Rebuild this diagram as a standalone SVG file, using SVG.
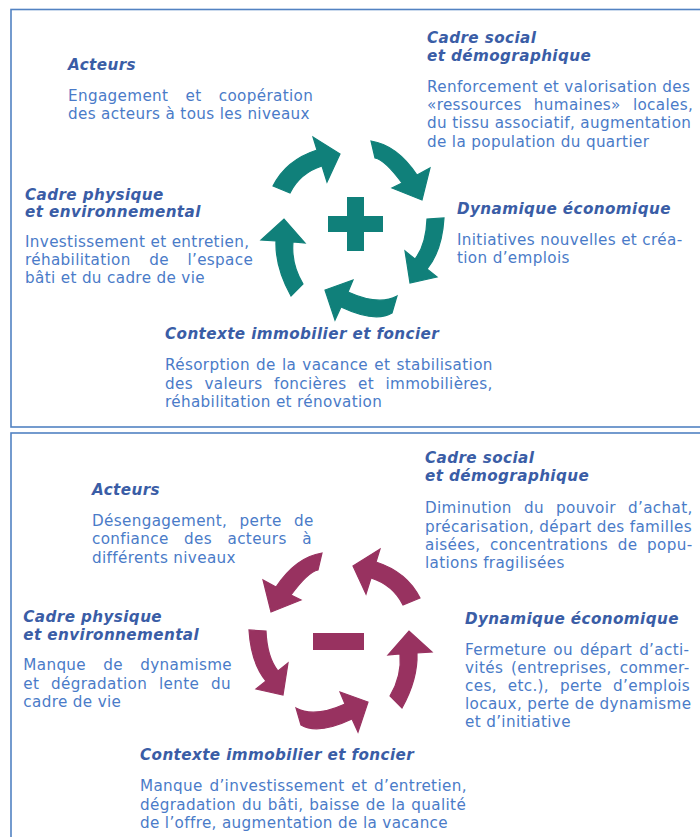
<svg xmlns="http://www.w3.org/2000/svg" xmlns:xlink="http://www.w3.org/1999/xlink" width="700" height="837" viewBox="0 0 700 837">
<style>
.frame { fill: none; stroke: #5282c2; stroke-width: 1.6; }
.h { font-family: "DejaVu Sans", Verdana, sans-serif; font-weight: bold; font-style: italic; font-size: 15.2px; fill: #3a5da6; letter-spacing: 0.4px; }
.b { font-family: "DejaVu Sans", Verdana, sans-serif; font-size: 15.2px; fill: #4a7bc8; letter-spacing: 0.35px; }
.teal { fill: #10807a; stroke: #10807a; stroke-width: 1.2; }
.purple { fill: #983260; stroke: #983260; stroke-width: 1.2; }
</style>
<defs>
<g id="ring">
<path d="M273,186 Q286,160 317,150 L313,137 L340,154 L327,182 L322,166 Q300,173 290,193 Z"/>
<path d="M371,141 Q397,145 417,175 L430,168 L422,200 L392,188 L402,183 Q385,160 375,158 Z"/>
<path d="M444,218 Q442,251 427,269 L437,277 L410,283 L405,251 L415,259 Q426,245 427,219 Z"/>
<path d="M392,313 Q375,323 341,307 L335,320 L325,290 L353,280 L348,292 Q379,306 397,296 Z"/>
<path d="M291,296 Q275,267 276,241 L261,240 L284,219 L305,243 L293,242 Q291,264 303,284 Z"/>
</g>
</defs>
<rect width="700" height="837" fill="#ffffff"/>
<g id="panels">
<rect class="frame" x="11" y="9.5" width="700" height="417.5"/>
<rect class="frame" x="11" y="433" width="700" height="420"/>
</g>
<g id="connectors">
<use href="#ring" xlink:href="#ring" class="teal"/>
<use href="#ring" xlink:href="#ring" class="purple" transform="matrix(-1,0,0,1,693,412)"/>
</g>
<g id="plus" class="teal">
<rect x="328" y="216" width="55" height="16" stroke="none"/>
<rect x="347" y="197" width="17" height="54" stroke="none"/>
</g>
<g id="minus" class="purple">
<rect x="313" y="633" width="51" height="17" stroke="none"/>
</g>
<g id="acteurs-plus">
<text class="h" x="68" y="70">Acteurs</text>
<text class="b" x="68" y="101" style="word-spacing:12px">Engagement et coopération</text>
<text class="b" x="68" y="119">des acteurs à tous les niveaux</text>
</g>
<g id="social-plus">
<text class="h" x="427" y="42.5">Cadre social</text>
<text class="h" x="427" y="60.5">et démographique</text>
<text class="b" x="427" y="91.7">Renforcement et valorisation des</text>
<text class="b" x="427" y="110" style="word-spacing:7px">«ressources humaines» locales,</text>
<text class="b" x="427" y="128.3">du tissu associatif, augmentation</text>
<text class="b" x="427" y="146.7">de la population du quartier</text>
</g>
<g id="eco-plus">
<text class="h" x="457" y="214">Dynamique économique</text>
<text class="b" x="457" y="244.5">Initiatives nouvelles et créa-</text>
<text class="b" x="457" y="262.8">tion d’emplois</text>
</g>
<g id="physique-plus">
<text class="h" x="25" y="200">Cadre physique</text>
<text class="h" x="25" y="216.8">et environnemental</text>
<text class="b" x="25" y="246.7">Investissement et entretien,</text>
<text class="b" x="25" y="265" style="word-spacing:13.3px">réhabilitation de l’espace</text>
<text class="b" x="25" y="283.3">bâti et du cadre de vie</text>
</g>
<g id="immo-plus">
<text class="h" x="165" y="339">Contexte immobilier et foncier</text>
<text class="b" x="165" y="370" style="word-spacing:1px">Résorption de la vacance et stabilisation</text>
<text class="b" x="165" y="388.5" style="word-spacing:6.3px">des valeurs foncières et immobilières,</text>
<text class="b" x="165" y="407">réhabilitation et rénovation</text>
</g>
<g id="acteurs-minus">
<text class="h" x="92" y="495">Acteurs</text>
<text class="b" x="92" y="526" style="word-spacing:7px">Désengagement, perte de</text>
<text class="b" x="92" y="544.3" style="word-spacing:10.3px">confiance des acteurs à</text>
<text class="b" x="92" y="562.8">différents niveaux</text>
</g>
<g id="social-minus">
<text class="h" x="425" y="463.3">Cadre social</text>
<text class="h" x="425" y="481">et démographique</text>
<text class="b" x="425" y="513.3" style="word-spacing:7px">Diminution du pouvoir d’achat,</text>
<text class="b" x="425" y="531.7">précarisation, départ des familles</text>
<text class="b" x="425" y="550" style="word-spacing:4.5px">aisées, concentrations de popu-</text>
<text class="b" x="425" y="568.3">lations fragilisées</text>
</g>
<g id="eco-minus">
<text class="h" x="465" y="624">Dynamique économique</text>
<text class="b" x="465" y="655" style="word-spacing:1.8px">Fermeture ou départ d’acti-</text>
<text class="b" x="465" y="673" style="word-spacing:2.7px">vités (entreprises, commer-</text>
<text class="b" x="465" y="691" style="word-spacing:5.7px">ces, etc.), perte d’emplois</text>
<text class="b" x="465" y="709">locaux, perte de dynamisme</text>
<text class="b" x="465" y="727">et d’initiative</text>
</g>
<g id="physique-minus">
<text class="h" x="23.3" y="621.7">Cadre physique</text>
<text class="h" x="23.3" y="640">et environnemental</text>
<text class="b" x="23.3" y="670" style="word-spacing:12.1px">Manque de dynamisme</text>
<text class="b" x="23.3" y="688.5" style="word-spacing:6.6px">et dégradation lente du</text>
<text class="b" x="23.3" y="707">cadre de vie</text>
</g>
<g id="immo-minus">
<text class="h" x="140" y="760">Contexte immobilier et foncier</text>
<text class="b" x="140" y="791" style="word-spacing:1.5px">Manque d’investissement et d’entretien,</text>
<text class="b" x="140" y="809.5" style="word-spacing:0.7px">dégradation du bâti, baisse de la qualité</text>
<text class="b" x="140" y="828">de l’offre, augmentation de la vacance</text>
</g>
</svg>
